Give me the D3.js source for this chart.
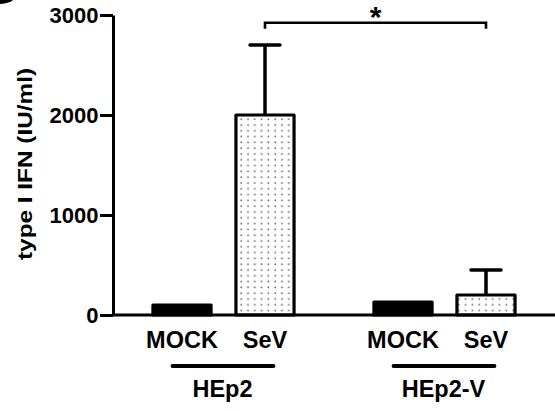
<!DOCTYPE html>
<html>
<head>
<meta charset="utf-8">
<script src="https://cdn.jsdelivr.net/npm/d3@7/dist/d3.min.js"></script>
<style>
  html, body { margin: 0; padding: 0; background: #fff; }
  svg text { font-family: "Liberation Sans", Arial, sans-serif; font-weight: bold; fill: #000; }
</style>
</head>
<body>
<div id="chart"></div>
<script>
"use strict"

// data
const groups = ["HEp2", "HEp2-V"];
const treatments = ["MOCK", "SeV"];
const means = [[100, 2000], [130, 200]];   // per group, per treatment
const errors = [[0, 700], [0, 250]];
const yTicks = [0, 1000, 2000, 3000];
const yTitle = "type I IFN (IU/ml)";
const signif = "*";

const width = 555, height = 411;

const svg = d3.select("#chart")
  .append("svg")
    .attr("width", width)
    .attr("height", height);

// dotted fill for SeV bars
const pat = svg.append("defs")
  .append("pattern")
    .attr("id", "dots")
    .attr("patternUnits", "userSpaceOnUse")
    .attr("width", 6.8)
    .attr("height", 5.8);
pat.append("rect").attr("width", 6.8).attr("height", 5.8).attr("fill", "#fff");
pat.append("rect").attr("x", 2.4).attr("y", 2.4).attr("width", 1.6).attr("height", 1.6).attr("fill", "#666");

const y = d3.scaleLinear().domain([0, 3000]).range([315, 15]);
const xGroup = d3.scalePoint().domain(groups).range([113, 555]).padding(0.5);
const xInner = d3.scaleBand().domain(treatments).range([-83, 83])
  .paddingInner(0.3).paddingOuter(0.15);

const bars = [];
groups.forEach((g, gi) => {
  treatments.forEach((t, ti) => {
    bars.push({group: g, treat: t, value: means[gi][ti], err: errors[gi][ti]});
  });
});

const cx = d => xGroup(d.group) + xInner(d.treat) + xInner.bandwidth() / 2;

// error bars (upper only)
const eb = svg.append("g")
  .selectAll("g")
  .data(bars.filter(d => d.err > 0))
  .enter()
  .append("g")
    .attr("stroke", "#000")
    .attr("stroke-width", 3.5);
eb.append("line")
  .attr("x1", cx).attr("x2", cx)
  .attr("y1", d => y(d.value)).attr("y2", d => y(d.value + d.err));
eb.append("line")
  .attr("x1", d => cx(d) - 15).attr("x2", d => cx(d) + 15)
  .attr("y1", d => y(d.value + d.err)).attr("y2", d => y(d.value + d.err))
  .attr("stroke-linecap", "round");

// bars
svg.append("g")
  .selectAll("rect")
  .data(bars)
  .enter()
  .append("rect")
    .attr("x", d => xGroup(d.group) + xInner(d.treat))
    .attr("width", xInner.bandwidth())
    .attr("y", d => y(d.value))
    .attr("height", d => y(0) - y(d.value))
    .attr("fill", d => d.treat === "MOCK" ? "#000" : "url(#dots)")
    .attr("stroke", "#000")
    .attr("stroke-width", 3.2)
    .attr("stroke-linejoin", "round");

// x axis line
svg.append("line")
  .attr("x1", 113).attr("x2", width)
  .attr("y1", y(0)).attr("y2", y(0))
  .attr("stroke", "#000")
  .attr("stroke-width", 3);

// y axis
const yAxis = svg.append("g")
  .attr("transform", "translate(113,0)")
  .call(d3.axisLeft(y).tickValues(yTicks).tickFormat(d3.format("d"))
    .tickSize(13).tickSizeOuter(0).tickPadding(1.5));
yAxis.select(".domain").attr("stroke", "#000").attr("stroke-width", 3);
yAxis.selectAll(".tick line").attr("stroke", "#000").attr("stroke-width", 3);
yAxis.selectAll(".tick text")
  .style("font-size", "22px")
  .attr("fill", "#000");

svg.append("text")
  .attr("transform", "translate(32,164) rotate(-90)")
  .attr("text-anchor", "middle")
  .attr("textLength", 192)
  .attr("lengthAdjust", "spacingAndGlyphs")
  .style("font-size", "19.5px")
  .text(yTitle);

// treatment labels
svg.append("g")
  .selectAll("text")
  .data(bars)
  .enter()
  .append("text")
    .attr("x", cx)
    .attr("y", 348)
    .attr("text-anchor", "middle")
    .style("font-size", "23.5px")
    .text(d => d.treat);

// group underlines and labels
const gl = svg.append("g")
  .selectAll("g")
  .data(groups)
  .enter()
  .append("g");
gl.append("line")
  .attr("x1", d => xGroup(d) - 51).attr("x2", d => xGroup(d) + 50)
  .attr("y1", 366).attr("y2", 366)
  .attr("stroke", "#000")
  .attr("stroke-width", 3.8)
  .attr("stroke-linecap", "round");
gl.append("text")
  .attr("x", d => xGroup(d) - 1)
  .attr("y", 397)
  .attr("text-anchor", "middle")
  .style("font-size", "23.5px")
  .text(d => d);

// significance bracket between the two SeV bars
const sA = cx(bars[1]), sB = cx(bars[3]);
svg.append("path")
  .attr("d", `M${sA},${y(2863)}V${y(2923)}H${sB}V${y(2863)}`)
  .attr("fill", "none")
  .attr("stroke", "#000")
  .attr("stroke-width", 2.6);
svg.append("text")
  .attr("x", (sA + sB) / 2)
  .attr("y", 27)
  .attr("text-anchor", "middle")
  .style("font-size", "30px")
  .text(signif);

// clipped panel letter blob in the corner
svg.append("circle")
  .attr("cx", 0).attr("cy", -20).attr("r", 24)
  .attr("fill", "#000");
</script>
</body>
</html>
